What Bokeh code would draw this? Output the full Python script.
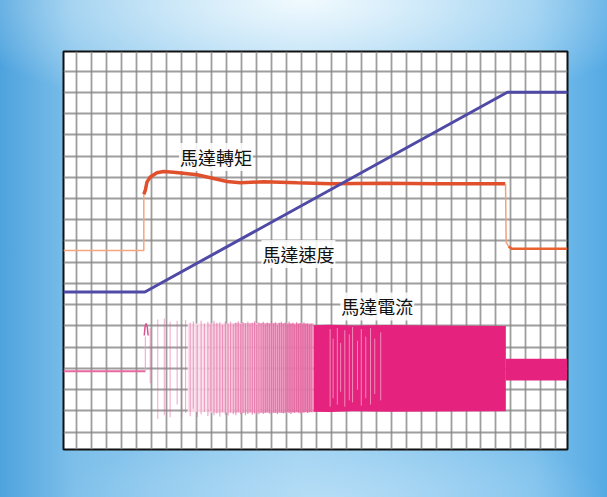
import numpy as np
from bokeh.plotting import figure
from bokeh.models import FixedTicker, Range1d, InlineStyleSheet
from bokeh.core.properties import value
from bokeh.embed import file_html
from bokeh.resources import INLINE

# ---- data (units: oscilloscope grid divisions) ----
grid_x_ticks = list(range(0, 33))
grid_y_ticks = list(range(0, 18))

speed_x = [-0.9, 4.54, 28.76, 32.78]
speed_y = [6.6, 6.6, 16.0, 16.0]

torque_idle_x = [-0.9, 4.47, 4.47]
torque_idle_y = [8.55, 8.55, 11.38]
torque_run_x = [4.47, 4.57, 4.68, 4.90, 5.35, 5.79, 6.46, 8.03, 8.92, 10.03,
                10.92, 12.48, 14.72, 16.94, 20.5, 24.0, 28.62]
torque_run_y = [11.2, 11.38, 11.77, 12.01, 12.21, 12.27, 12.24, 12.12, 11.98, 11.80,
                11.74, 11.79, 11.74, 11.70, 11.72, 11.70, 11.70]
torque_drop_x = [28.64, 28.68, 28.85]
torque_drop_y = [11.70, 8.95, 8.74]
torque_stop_x = [28.85, 29.05, 32.78]
torque_stop_y = [8.74, 8.63, 8.63]

current_idle_x = [-0.9, 4.57]
current_idle_y = [2.87, 2.87]
current_spike_x = [4.50, 4.55, 4.62, 4.70, 4.76]
current_spike_y = [4.55, 4.95, 5.12, 4.95, 4.55]
current_first_x = [4.57, 4.57]
current_first_y = [2.87, 4.5]

# individual visible current strokes in the sparse part: x, top, bottom
stroke_x = [4.9, 5.40, 5.84, 6.23, 6.70, 7.00, 7.26, 7.57, 7.78, 8.04, 8.30, 8.52, 8.75,
            8.95, 9.16, 9.35, 9.55, 9.73, 9.92, 10.10, 10.27, 10.45, 10.62, 10.78,
            10.95, 11.10, 11.26, 11.42, 11.57, 11.72, 11.87, 12.02, 12.16, 12.30,
            12.45, 12.59, 12.72, 12.86, 13.00, 13.13, 13.26, 13.40, 13.53, 13.66,
            13.79, 13.92, 14.05, 14.18, 14.30, 14.43, 14.55, 14.68, 14.80, 14.92,
            15.05, 15.17, 15.29, 15.41, 15.53, 15.65]
stroke_top = [4.9, 5.30, 5.35, 5.20, 5.25, 5.10, 5.28, 5.15, 5.22, 5.05, 5.25, 5.12, 5.20,
              5.08, 5.24, 5.15, 5.18, 5.05, 5.22, 5.12, 5.20, 5.10, 5.16, 5.22,
              5.08, 5.18, 5.12, 5.20, 5.10, 5.15, 5.22, 5.06, 5.18, 5.12,
              5.20, 5.08, 5.16, 5.10, 5.22, 5.12, 5.18, 5.05, 5.15, 5.20,
              5.10, 5.16, 5.08, 5.20, 5.12, 5.15, 5.05, 5.18, 5.10, 5.14,
              5.08, 5.16, 5.10, 5.12, 5.06, 5.10]
stroke_bottom = [2.3, 0.62, 0.80, 0.70, 1.30, 0.68, 0.90, 0.75, 1.10, 0.72, 0.85, 0.95, 0.76,
                 1.00, 0.80, 0.88, 0.74, 0.95, 0.82, 0.78, 0.92, 0.85, 0.80, 0.96,
                 0.84, 0.90, 0.80, 0.86, 0.94, 0.82, 0.88, 0.90, 0.84, 0.92,
                 0.86, 0.90, 0.95, 0.88, 0.84, 0.92, 0.90, 0.86, 0.94, 0.90,
                 0.88, 0.92, 0.95, 0.90, 0.86, 0.93, 0.90, 0.95, 0.92, 0.88,
                 0.94, 0.92, 0.96, 0.90, 0.94, 0.95]

# light-to-medium pink envelope sections (x edges, top, bottom)
pink_edges = [7.4, 8.8, 10.5, 12.3, 14.0, 15.82]
pink_top = [5.12, 5.12, 5.14, 5.14, 5.12]
pink_bottom = [0.95, 0.92, 0.92, 0.92, 0.94]

# dense (solid) current envelope
dense_x = [15.82, 16.85, 18.5, 20.74, 24.0, 28.66]
dense_top = [5.03, 5.06, 5.02, 5.05, 5.02, 5.0]
dense_bottom = [0.96, 0.95, 0.98, 0.96, 0.97, 0.98]
# light gaps seen inside the dense block: x, top, bottom
gap_x = [16.92, 17.12, 17.4, 17.62, 17.9, 18.2, 18.42, 18.75, 19.0, 19.3, 19.62, 19.9, 20.3]
gap_top = [4.85, 4.4, 4.9, 4.2, 4.8, 4.6, 4.95, 4.3, 4.85, 4.5, 4.9, 4.4, 4.7]
gap_bottom = [1.2, 1.6, 1.3, 1.9, 1.2, 1.5, 1.4, 2.0, 1.25, 1.6, 1.3, 1.8, 1.5]

# current after reaching speed
after_x = [28.66, 32.78]
after_top = [3.46, 3.46]
after_bottom = [2.43, 2.43]

labels = ["馬達轉矩", "馬達速度", "馬達電流"]
label_x = [9.29, 14.8, 20.07]
label_y = [12.95, 8.39, 5.92]

# ---- figure ----
css = """
:host {
  background:
    radial-gradient(ellipse 60% 24% at 50% 0%, rgba(245,252,255,0.95), rgba(245,252,255,0) 100%),
    radial-gradient(ellipse 45% 14% at 55% 100%, rgba(190,225,248,0.7), rgba(190,225,248,0) 100%),
    linear-gradient(to right, #4ea3de 0%, #7dbfea 12%, #9fd2f1 50%, #7cc0ec 88%, #55aae4 100%);
}
"""

p = figure(width=607, height=497,
           x_range=Range1d(-0.896, 32.78), y_range=Range1d(-0.815, 17.92),
           output_backend="svg", toolbar_location=None,
           min_border_left=63, min_border_right=40, min_border_top=51, min_border_bottom=48,
           border_fill_alpha=0, background_fill_color="white",
           outline_line_color="#111111", outline_line_width=2,
           stylesheets=[InlineStyleSheet(css=css)])
p.xaxis.visible = False
p.yaxis.visible = False
p.xgrid.ticker = FixedTicker(ticks=grid_x_ticks)
p.ygrid.ticker = FixedTicker(ticks=grid_y_ticks)
for g in (p.xgrid, p.ygrid):
    g.grid_line_color = "#868686"
    g.grid_line_width = 1.8
    g.grid_line_alpha = 0.8

# current
p.line(current_idle_x, current_idle_y, line_color="#e8689f", line_width=2)
p.line(current_first_x, current_first_y, line_color="#f0a0c0", line_width=1)
p.line(current_spike_x, current_spike_y, line_color="#d9558f", line_width=1.5)
pink_colors = ["#fbe0ec", "#f8cadf", "#f5b6d2", "#f2a2c6", "#ee8dba"]
for i in range(len(pink_edges) - 1):
    p.varea(x=[pink_edges[i], pink_edges[i + 1]], y1=[pink_bottom[i]] * 2, y2=[pink_top[i]] * 2,
            fill_color=pink_colors[i], fill_alpha=0.9)
stroke_alpha = list(np.linspace(0.45, 0.85, len(stroke_x)))
p.segment(x0=stroke_x, y0=stroke_bottom, x1=stroke_x, y1=stroke_top,
          line_color="#e0609a", line_width=1.2, line_alpha=stroke_alpha)
p.varea(x=dense_x, y1=dense_bottom, y2=dense_top, fill_color="#e5227d")
p.segment(x0=gap_x, y0=gap_bottom, x1=gap_x, y1=gap_top,
          line_color="#f2a6c8", line_width=1.0, line_alpha=0.8)
p.varea(x=after_x, y1=after_bottom, y2=after_top, fill_color="#e5227d")

# torque
p.line(torque_idle_x, torque_idle_y, line_color="#f6a57f", line_width=1.5)
p.line(torque_run_x, torque_run_y, line_color="#e0502c", line_width=3.5)
p.line(torque_drop_x, torque_drop_y, line_color="#f2a07a", line_width=1.5)
p.line(torque_stop_x, torque_stop_y, line_color="#e8612e", line_width=2.5)

# speed
p.line(speed_x, speed_y, line_color="#4f4aa6", line_width=3)

# labels
p.text(x=label_x, y=label_y, text=labels, text_align="center", text_baseline="middle",
       text_font=value("Noto Sans CJK TC"), text_font_size="18px", text_color="#111111",
       background_fill_color="white", background_fill_alpha=0.85, padding=1)

open("out.html", "w").write(file_html(p, INLINE))
